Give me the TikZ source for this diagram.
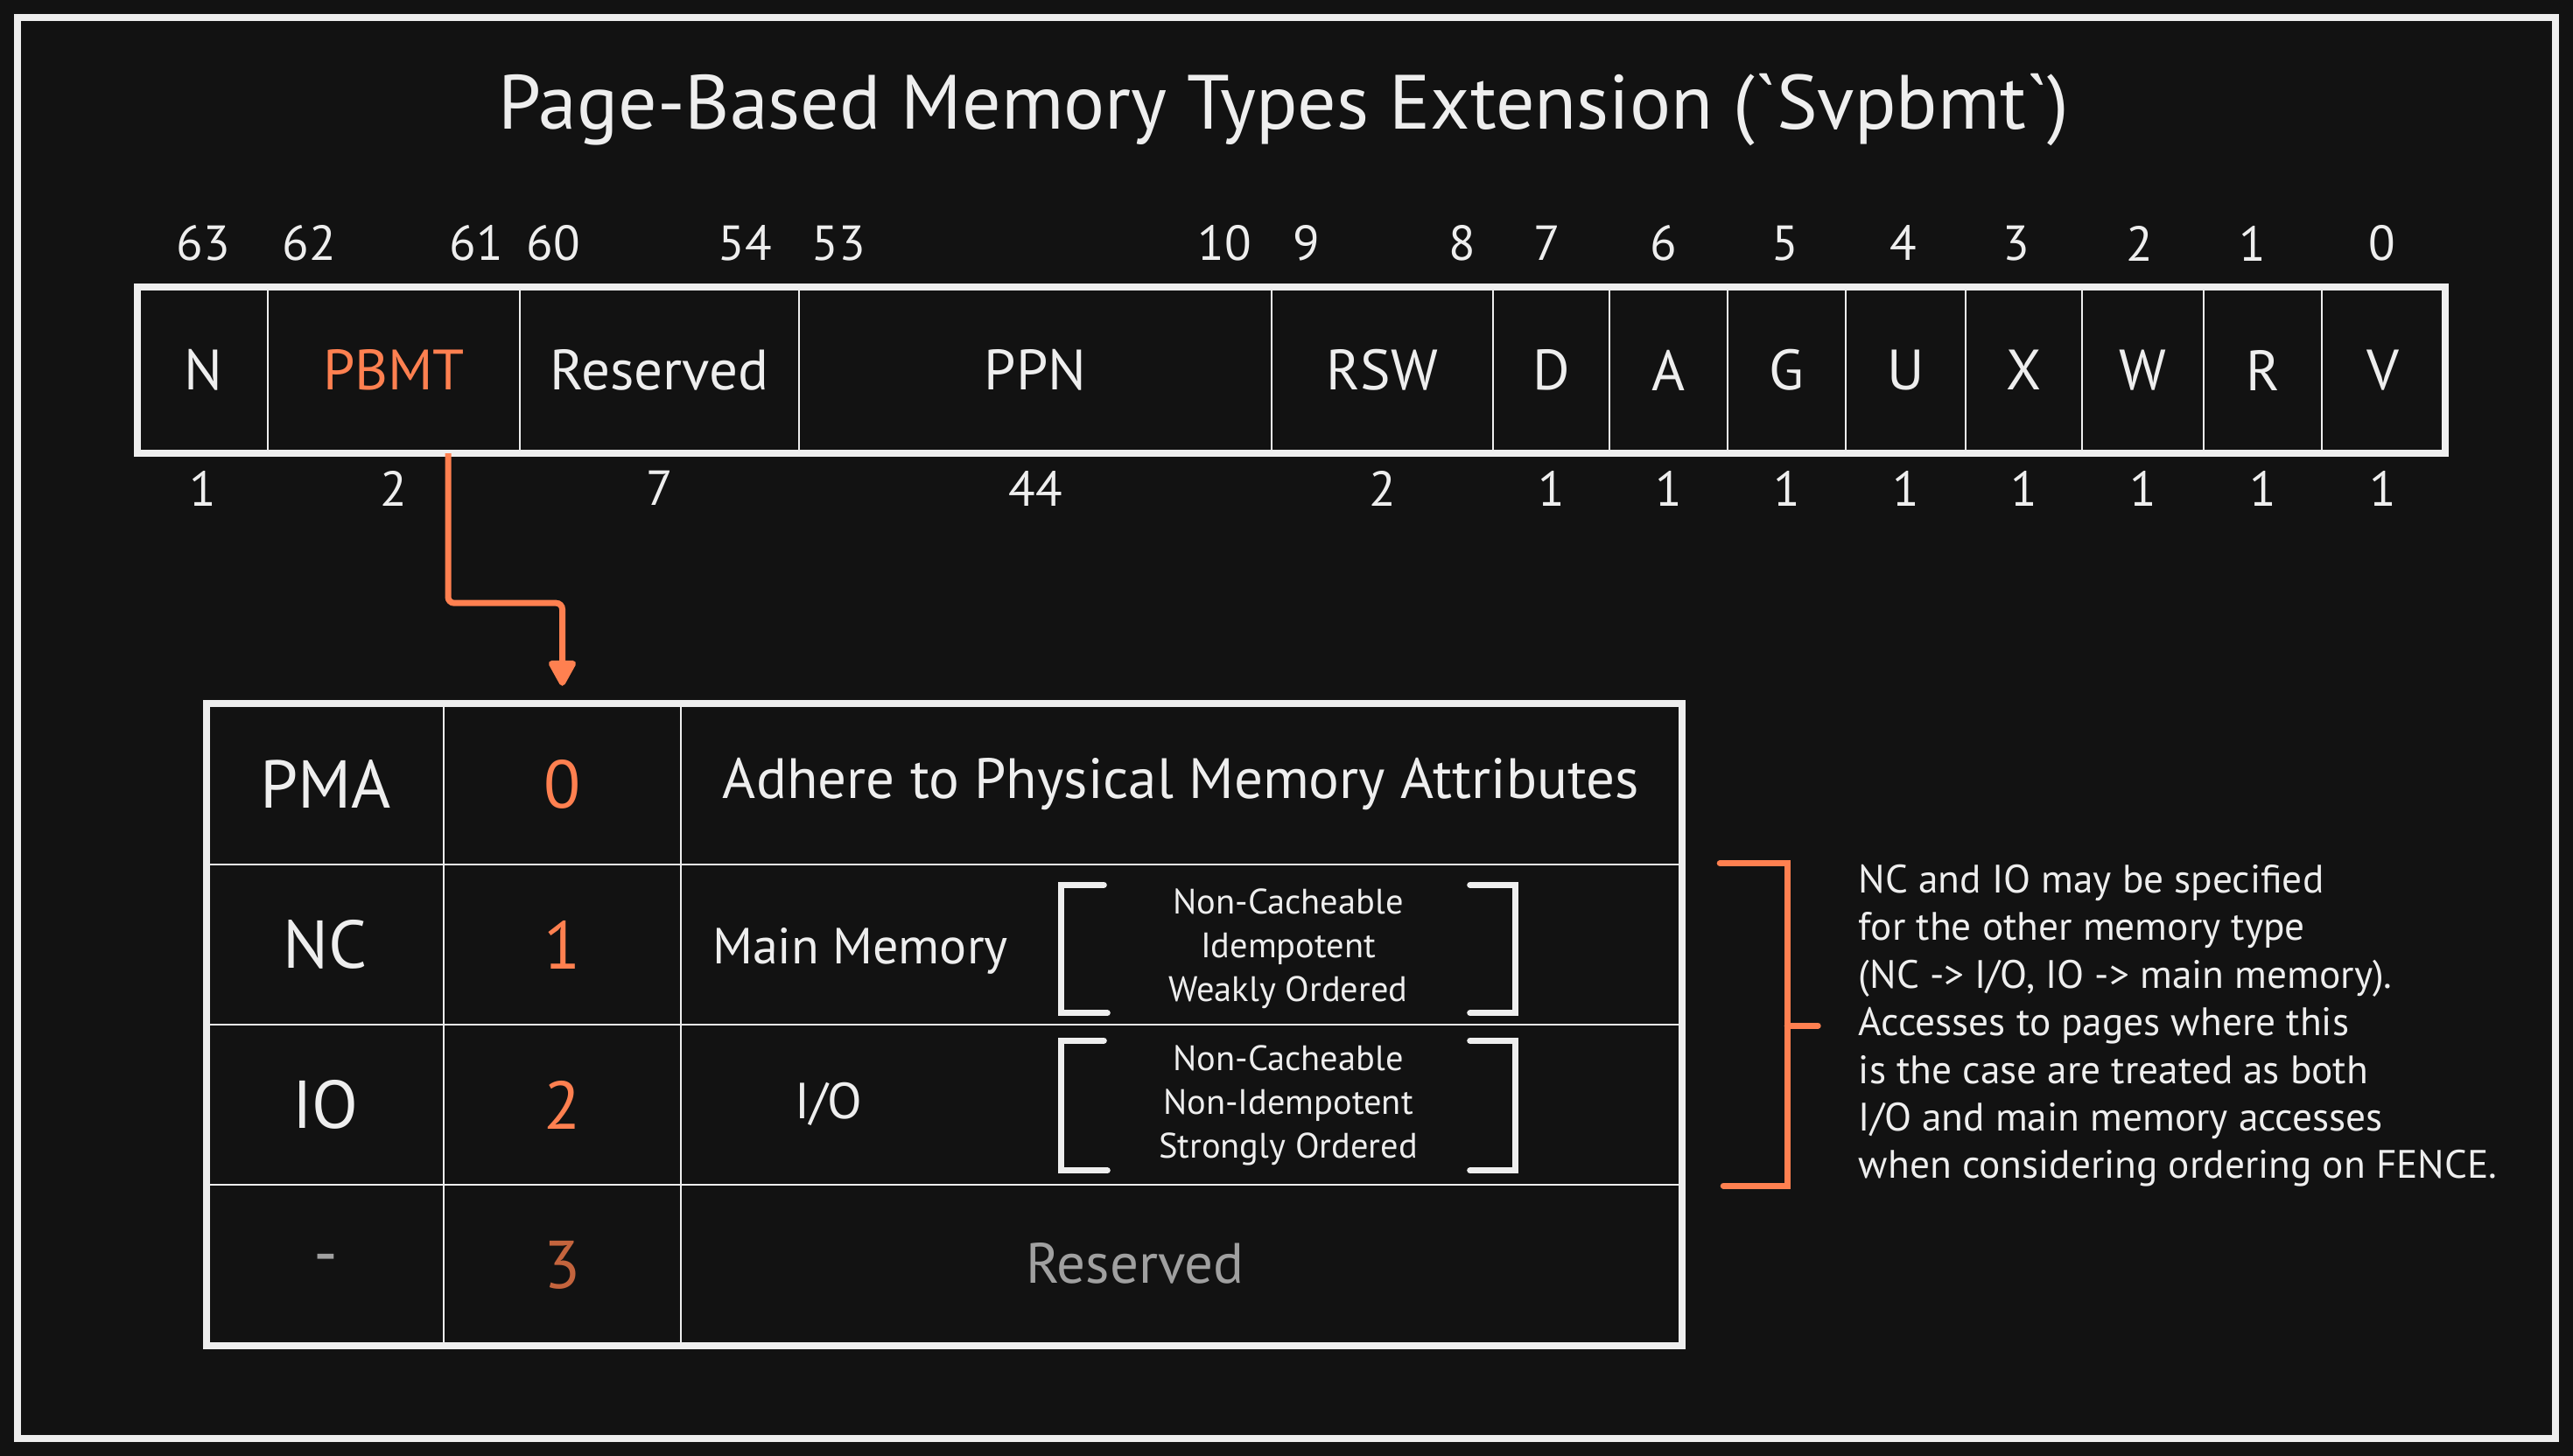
\documentclass[tikz,border=0pt]{standalone}
\usepackage{fontspec}
\setmainfont{PT Sans}
\usetikzlibrary{arrows.meta,positioning}

\definecolor{bg}{HTML}{121212}
\definecolor{ink}{HTML}{EEEEEE}
\definecolor{accent}{HTML}{FF8050}
\definecolor{accentdim}{HTML}{C4643D}
\definecolor{muted}{HTML}{A0A0A0}

\begin{document}
\begin{tikzpicture}[
        text=ink,
        title/.style={font=\fontsize{25}{30}\selectfont},
        field/.style={draw=ink, line width=0.7pt, minimum height=1.88cm,
                      inner sep=0pt, font=\fontsize{18.5}{22}\selectfont},
        bitno/.style={font=\fontsize{16}{19}\selectfont, inner sep=1pt},
        cell/.style={draw=ink, line width=0.7pt, minimum height=1.83cm,
                     inner sep=0pt, font=\fontsize{22}{26}\selectfont},
        desc/.style={font=\fontsize{18.5}{22}\selectfont},
        kind/.style={font=\fontsize{16.5}{20}\selectfont},
        attr/.style={minimum width=5.18cm, inner sep=0pt, align=center,
                     font=\fontsize{11.5}{14.2}\selectfont},
        frame/.style={draw=ink, line width=0.08cm},
        brk/.style={draw=ink, line width=0.07cm, line cap=round},
        brace/.style={draw=accent, line width=0.07cm, line cap=round},
        conn/.style={draw=accent, line width=0.07cm, rounded corners=2pt,
                     shorten >=0.2cm,
                     -{Triangle[width=0.34cm, length=0.33cm, round]}},
        note/.style={align=left, inner sep=0pt,
                     font=\fontsize{12.9}{15.5}\selectfont},
    ]

    \fill[bg] (0,0) rectangle (29.4,-16.64);
    \useasboundingbox (0,0) rectangle (29.4,-16.64);
    \draw[frame] (0.2,-0.2) rectangle (29.2,-16.44);

    \node[title] (title) at (14.67,-1.26)
        {Page-Based Memory Types Extension (\textasciigrave Svpbmt\textasciigrave)};

    \node[bitno] (b63) at (2.32,-2.78) {63};
    \node[bitno] (b62) at (3.53,-2.78) {62};
    \node[bitno] (b61) at (5.44,-2.78) {61};
    \node[bitno] (b60) at (6.32,-2.78) {60};
    \node[bitno] (b54) at (8.51,-2.78) {54};
    \node[bitno] (b53) at (9.58,-2.78) {53};
    \node[bitno] (b10) at (13.99,-2.78) {10};
    \node[bitno] (b9)  at (14.93,-2.78) {9};
    \node[bitno] (b8)  at (16.71,-2.78) {8};
    \node[bitno] (b7)  at (17.68,-2.78) {7};
    \node[bitno] (b6)  at (19.01,-2.78) {6};
    \node[bitno] (b5)  at (20.40,-2.78) {5};
    \node[bitno] (b4)  at (21.75,-2.78) {4};
    \node[bitno] (b3)  at (23.04,-2.78) {3};
    \node[bitno] (b2)  at (24.45,-2.78) {2};
    \node[bitno] (b1)  at (25.74,-2.78) {1};
    \node[bitno] (b0)  at (27.22,-2.78) {0};

    \node[field, minimum width=1.48cm] (fN)    at (2.32,-4.23)   {N};
    \node[field, minimum width=2.88cm, text=accent] (fPBMT) at (4.50,-4.23) {PBMT};
    \node[field, minimum width=3.19cm] (fRes)  at (7.535,-4.23)  {Reserved};
    \node[field, minimum width=5.40cm] (fPPN)  at (11.83,-4.23)  {PPN};
    \node[field, minimum width=2.53cm] (fRSW)  at (15.795,-4.23) {RSW};
    \node[field, minimum width=1.33cm] (fD)    at (17.725,-4.23) {D};
    \node[field, minimum width=1.35cm] (fA)    at (19.065,-4.23) {A};
    \node[field, minimum width=1.35cm] (fG)    at (20.415,-4.23) {G};
    \node[field, minimum width=1.37cm] (fU)    at (21.775,-4.23) {U};
    \node[field, minimum width=1.33cm] (fX)    at (23.125,-4.23) {X};
    \node[field, minimum width=1.39cm] (fW)    at (24.485,-4.23) {W};
    \node[field, minimum width=1.35cm] (fR)    at (25.855,-4.23) {R};
    \node[field, minimum width=1.40cm] (fV)    at (27.23,-4.23)  {V};
    \draw[frame] (fN.north west) rectangle (fV.south east);

    \node[bitno] (wN)    at ([yshift=-0.4cm]fN.south)    {1};
    \node[bitno] (wPBMT) at ([yshift=-0.4cm]fPBMT.south) {2};
    \node[bitno] (wRes)  at ([yshift=-0.4cm]fRes.south)  {7};
    \node[bitno] (wPPN)  at ([yshift=-0.4cm]fPPN.south)  {44};
    \node[bitno] (wRSW)  at ([yshift=-0.4cm]fRSW.south)  {2};
    \node[bitno] (wD)    at ([yshift=-0.4cm]fD.south)    {1};
    \node[bitno] (wA)    at ([yshift=-0.4cm]fA.south)    {1};
    \node[bitno] (wG)    at ([yshift=-0.4cm]fG.south)    {1};
    \node[bitno] (wU)    at ([yshift=-0.4cm]fU.south)    {1};
    \node[bitno] (wX)    at ([yshift=-0.4cm]fX.south)    {1};
    \node[bitno] (wW)    at ([yshift=-0.4cm]fW.south)    {1};
    \node[bitno] (wR)    at ([yshift=-0.4cm]fR.south)    {1};
    \node[bitno] (wV)    at ([yshift=-0.4cm]fV.south)    {1};

    \node[cell, minimum width=2.70cm] (nPMA) at (3.72,-8.965)   {PMA};
    \node[cell, minimum width=2.71cm, text=accent] (vPMA) at (6.425,-8.965) {0};
    \node[cell, minimum width=11.43cm, desc] (dPMA) at (13.495,-8.965)
        {Adhere to Physical Memory Attributes};

    \node[cell, minimum width=2.70cm] (nNC) at (3.72,-10.795)   {NC};
    \node[cell, minimum width=2.71cm, text=accent] (vNC) at (6.425,-10.795) {1};
    \node[cell, minimum width=11.43cm] (dNC) at (13.495,-10.795) {};
    \node[kind] (mm) at (9.83,-10.87) {Main Memory};
    \node[attr, minimum height=1.45cm] (aNC) at (14.72,-10.845)
        {Non-Cacheable\\Idempotent\\Weakly Ordered};
    \draw[brk] ([xshift=0.49cm]aNC.north west) -- (aNC.north west)
        -- (aNC.south west) -- ([xshift=0.53cm]aNC.south west);
    \draw[brk] ([xshift=-0.52cm]aNC.north east) -- (aNC.north east)
        -- (aNC.south east) -- ([xshift=-0.52cm]aNC.south east);

    \node[cell, minimum width=2.70cm] (nIO) at (3.72,-12.625)   {IO};
    \node[cell, minimum width=2.71cm, text=accent] (vIO) at (6.425,-12.625) {2};
    \node[cell, minimum width=11.43cm] (dIO) at (13.495,-12.625) {};
    \node[kind] (io) at (9.47,-12.62) {I/O};
    \node[attr, minimum height=1.47cm] (aIO) at (14.72,-12.635)
        {Non-Cacheable\\Non-Idempotent\\Strongly Ordered};
    \draw[brk] ([xshift=0.49cm]aIO.north west) -- (aIO.north west)
        -- (aIO.south west) -- ([xshift=0.53cm]aIO.south west);
    \draw[brk] ([xshift=-0.52cm]aIO.north east) -- (aIO.north east)
        -- (aIO.south east) -- ([xshift=-0.52cm]aIO.south east);

    \node[cell, minimum width=2.70cm, text=muted] (nRes) at (3.72,-14.455) {-};
    \node[cell, minimum width=2.71cm, text=accentdim] (vRes) at (6.425,-14.455) {3};
    \node[cell, minimum width=11.43cm] (dRes) at (13.495,-14.455) {};
    \node[desc, text=muted] (rsv) at (12.97,-14.44) {Reserved};
    \draw[frame] (nPMA.north west) rectangle (dRes.south east);

    \draw[conn] ([xshift=0.62cm]fPBMT.south) -- ++(0,-1.71) -| (vPMA.north);

    \draw[brace] ([xshift=0.43cm]dNC.north east) -| ([xshift=1.2cm]dIO.south east)
        -- ([xshift=0.47cm]dIO.south east);
    \draw[brace] ([xshift=1.2cm]dNC.south east) -- ++(0.35,0) coordinate (tick);

    \node[note, anchor=west] (note) at ([xshift=0.46cm]tick)
        {NC and IO may be specified\\
         for the other memory type\\
         (NC -> I/O, IO -> main memory).\\
         Accesses to pages where this\\
         is the case are treated as both\\
         I/O and main memory accesses\\
         when considering ordering on FENCE.};

\end{tikzpicture}
\end{document}
